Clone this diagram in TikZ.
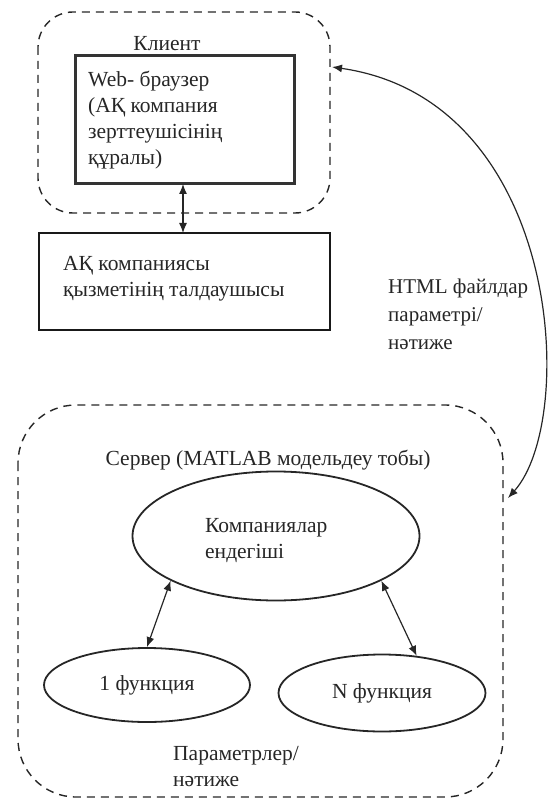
\documentclass[tikz,border=0pt]{standalone}
\usepackage{fontspec}
\setmainfont{Liberation Serif}
\usetikzlibrary{arrows.meta,shapes.geometric}
\begin{document}
\begin{tikzpicture}[x=1pt,y=-1pt,
  every node/.style={font=\fontsize{21.5}{26}\selectfont, text=black!85},
  dashbox/.style={draw=black!85, line width=1.4pt, dash pattern=on 8pt off 6pt},
  lbl/.style={align=left, inner sep=0pt, anchor=west},
  ell/.style={draw=black!85, line width=1.8pt, ellipse, inner sep=0pt},
  arr/.style={draw=black!85, line width=1.2pt, {Latex[length=10pt,width=8pt]}-{Latex[length=10pt,width=8pt]}}
]
\useasboundingbox (0,0) rectangle (549,799);
% client
\draw[dashbox, rounded corners=35pt] (38,12) rectangle (330,213);
\node (klient) at (167,44) {Клиент};
\draw[draw=black!80, line width=3pt] (75,56) rectangle (294,184);
\coordinate (webtop) at (183,184);
\node[lbl] (web) at (88,120) {Web- браузер\\(АҚ компания\\зерттеушісінің\\құралы)};
\coordinate (clientR) at (332,67);
% analyst
\draw[draw=black!90, line width=1.5pt] (39,233) rectangle (330,330);
\coordinate (anatop) at (183,233);
\node[lbl] (ana) at (63,279) {АҚ компаниясы\\қызметінің талдаушысы};
\draw[arr] (webtop) -- (anatop);
% label
\node[lbl, font=\fontsize{21}{28}\selectfont] (html) at (388,314) {HTML файлдар\\параметрі/\\нәтиже};
% server
\draw[dashbox, rounded corners=58pt] (18,405) rectangle (503,797);
\node (server) at (268,460) {Сервер (MATLAB модельдеу тобы)};
\coordinate (serverR) at (508,498);
\draw[arr] (clientR) .. controls (562,100) and (578,420) .. (serverR);
\node[ell, minimum width=287pt, minimum height=129pt] (disp) at (276,536) {};
\node[lbl] (disptext) at (205,541) {Компаниялар\\ендегіші};
\node[ell, minimum width=206pt, minimum height=74pt] (f1) at (147,685) {1 функция};
\node[ell, minimum width=207pt, minimum height=77pt] (fn) at (382,693) {N функция};
\draw[arr] (disp.203) -- (f1.north);
\draw[arr] (disp.337) -- (fn.47);
\node[lbl] (params) at (173,767) {Параметрлер/\\нәтиже};
\end{tikzpicture}
\end{document}
